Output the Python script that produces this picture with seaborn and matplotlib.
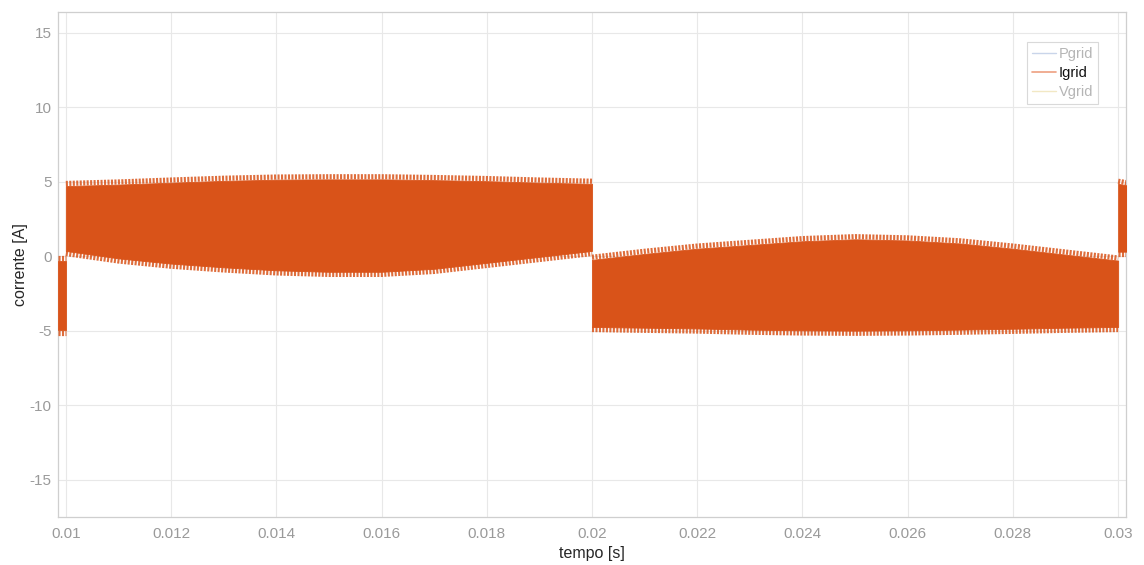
import numpy as np
import matplotlib
matplotlib.use("Agg")
import matplotlib.pyplot as plt
from matplotlib.lines import Line2D
import seaborn as sns

# Grid current Igrid: switching-ripple band, peak (tip) envelopes in A
t_half1 = [0.010, 0.011, 0.012, 0.013, 0.014, 0.015, 0.016, 0.017, 0.018, 0.019, 0.020]
igrid_hi_1 = [5.05, 5.15, 5.28, 5.40, 5.48, 5.50, 5.50, 5.45, 5.38, 5.28, 5.20]
igrid_lo_1 = [0.00, -0.50, -0.85, -1.10, -1.30, -1.40, -1.40, -1.20, -0.80, -0.40, 0.00]

t_half2 = [0.020, 0.021, 0.022, 0.023, 0.024, 0.025, 0.026, 0.027, 0.028, 0.029, 0.030]
igrid_hi_2 = [0.10, 0.50, 0.85, 1.10, 1.35, 1.48, 1.40, 1.20, 0.85, 0.45, 0.05]
igrid_lo_2 = [-5.10, -5.15, -5.20, -5.28, -5.33, -5.35, -5.33, -5.28, -5.22, -5.15, -5.10]

# short pieces of the neighbouring half cycles at both ends of the window
t_head = [0.00986, 0.01000]
igrid_hi_head = [0.05, 0.05]
igrid_lo_head = [-5.30, -5.30]
t_tail = [0.03000, 0.03016]
igrid_hi_tail = [5.20, 5.10]
igrid_lo_tail = [-0.05, -0.05]

x_ticks = [0.010, 0.012, 0.014, 0.016, 0.018, 0.020, 0.022, 0.024, 0.026, 0.028, 0.030]
x_tick_labels = ["0.01", "0.012", "0.014", "0.016", "0.018", "0.02",
                 "0.022", "0.024", "0.026", "0.028", "0.03"]
y_ticks = [-15, -10, -5, 0, 5, 10, 15]
y_tick_labels = ["-15", "-10", "-5", "0", "5", "10", "15"]
legend_labels = ["Pgrid", "Igrid", "Vgrid"]

ORANGE = "#D95319"
TOOTH = 0.35          # depth of the ripple teeth along the band edges [A]
XLIM = (0.00986, 0.03015)
YLIM = (-17.5, 16.4)

sns.set_theme(style="whitegrid")
plt.rcParams["font.family"] = ["Liberation Sans", "DejaVu Sans"]
plt.rcParams["lines.scale_dashes"] = False

fig = plt.figure(figsize=(11.44, 5.65), dpi=100)
ax = fig.add_axes([0.0511, 0.085, 0.9332, 0.8943])
ax.set_facecolor("white")
ax.set_xlim(*XLIM)
ax.set_ylim(*YLIM)

# line width (pt) that spans TOOTH amps on this axes
ax_h_px = 0.8943 * 5.65 * 100
tooth_pt = TOOTH * ax_h_px / (YLIM[1] - YLIM[0]) * 72 / 100

segments = [
    (t_head, igrid_hi_head, igrid_lo_head),
    (t_half1, igrid_hi_1, igrid_lo_1),
    (t_half2, igrid_hi_2, igrid_lo_2),
    (t_tail, igrid_hi_tail, igrid_lo_tail),
]
for t, hi, lo in segments:
    t = np.asarray(t)
    hi = np.asarray(hi)
    lo = np.asarray(lo)
    # solid body of the ripple band
    ax.fill_between(t, lo + TOOTH, hi - TOOTH, color=ORANGE, lw=0.6,
                    edgecolor=ORANGE, zorder=3)
    # serrated edges (ripple peaks)
    for edge in (hi - TOOTH / 2, lo + TOOTH / 2):
        sns.lineplot(x=t, y=edge, ax=ax, color=ORANGE, lw=tooth_pt,
                     linestyle=(0, (1.5, 1.0)), dash_capstyle="butt",
                     alpha=0.85, zorder=3, legend=False)

ax.set_xticks(x_ticks)
ax.set_xticklabels(x_tick_labels)
ax.set_yticks(y_ticks)
ax.set_yticklabels(y_tick_labels)

ax.grid(True, color="#e8e8e8", lw=0.8)
for s in ax.spines.values():
    s.set_visible(True)
    s.set_color("#cfcfcf")
    s.set_linewidth(0.9)
ax.tick_params(axis="both", direction="in", length=4, width=0.8,
               color="#bdbdbd", labelcolor="#9a9a9a", labelsize=11)
ax.tick_params(axis="x", pad=7)
ax.tick_params(axis="y", pad=5)

ax.set_xlabel("tempo [s]", fontsize=11.5, color="#262626", labelpad=4)
ax.set_ylabel("corrente [A]", fontsize=11.5, color="#262626", labelpad=1)

handles = [
    Line2D([], [], color="#c9d5ea", lw=1.0),
    Line2D([], [], color="#ee9f80", lw=1.2),
    Line2D([], [], color="#f2e8c4", lw=1.0),
]
leg = ax.legend(handles, legend_labels, loc="upper right",
                bbox_to_anchor=(0.974, 0.94), fontsize=10.5, frameon=True,
                fancybox=False, framealpha=1, edgecolor="#d9d9d9",
                handlelength=1.6, handletextpad=0.2, labelspacing=0.35,
                borderpad=0.35, borderaxespad=0)
leg.get_frame().set_linewidth(0.8)
for txt, col in zip(leg.get_texts(), ["#b5b5b5", "#111111", "#b5b5b5"]):
    txt.set_color(col)

fig.savefig("out.png", dpi=100, facecolor="white")
